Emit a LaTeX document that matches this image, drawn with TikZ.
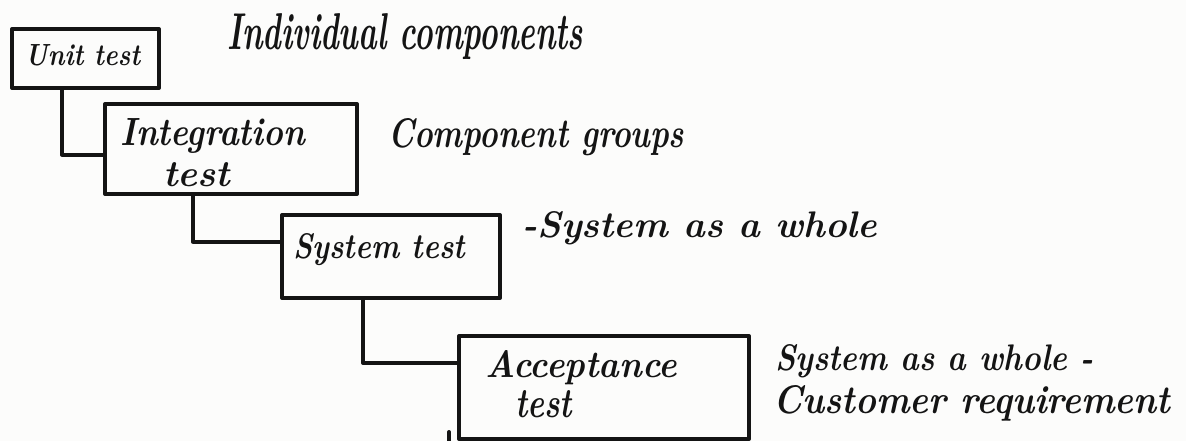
\documentclass[tikz,border=0pt]{standalone}
\usetikzlibrary{calc}
\definecolor{ink}{HTML}{141414}
\definecolor{paper}{HTML}{FCFCFB}
% scale a phrase to a given width and ascender height (in pt)
\newcommand\handtext[3]{\resizebox{#1pt}{#2pt}{#3}}
\tikzset{
  stage/.style={draw=ink, line width=4pt, rectangle, inner sep=0pt,
                anchor=north west, line join=round},
  link/.style={draw=ink, line width=4pt, line cap=round, line join=round},
  hand/.style={inner sep=0pt, anchor=base west, text=ink,
               font=\bfseries\itshape},
}
\begin{document}
\begin{tikzpicture}[x=1pt, y=-1pt]
  \fill[paper] (0,0) rectangle (1186,441);
  \useasboundingbox (0,0) rectangle (1186,441);

  % test stages
  \node[stage, minimum width=147pt, minimum height=59pt]  (unit)  at (10,27)   {};
  \node[stage, minimum width=252pt, minimum height=90pt]  (integ) at (103,102) {};
  \node[stage, minimum width=218pt, minimum height=83pt]  (sys)   at (280,213) {};
  \node[stage, minimum width=290pt, minimum height=103pt] (acc)   at (457,334) {};

  % stage names
  \node[hand] (unitname)  at (25,66)   {\handtext{115}{21}{Unit test}};
  \node[hand] (integname) at (120,146) {\handtext{185}{27}{Integration}};
  \node[hand] (integtest) at (163,186) {\handtext{67}{24}{test}};
  \node[hand] (sysname)   at (293,258) {\handtext{172}{25}{System test}};
  \node[hand] (accname)   at (485,377) {\handtext{192}{27}{Acceptance}};
  \node[hand] (acctest)   at (515,417) {\handtext{57}{27}{test}};

  % what each stage tests
  \node[hand] (unitnote)  at (227,50)  {\handtext{356}{36}{Individual components}};
  \node[hand] (integnote) at (388,147) {\handtext{296}{29}{Component groups}};
  \node[hand] (sysnote)   at (522,237) {\handtext{355}{26}{-System as a whole}};
  \node[hand] (accnote1)  at (775,370) {\handtext{318}{26}{System as a whole -}};
  \node[hand] (accnote2)  at (773,413) {\handtext{397}{28}{Customer requirement}};

  % stepped connectors between stages
  \draw[link] ([xshift=52pt]unit.south west)
      |- ($(integ.north west)!0.56!(integ.south west)$);
  \draw[link] ([xshift=90pt]integ.south west)
      |- ($(sys.north west)!0.33!(sys.south west)$);
  \draw[link] ([xshift=83pt]sys.south west)
      |- ($(acc.north west)!0.27!(acc.south west)$);

  % start of the next connector below the acceptance stage
  \coordinate (nexttop) at (449,432);
  \coordinate (nextbot) at (449,443);
  \draw[link] (nexttop) -- (nextbot);
\end{tikzpicture}
\end{document}
